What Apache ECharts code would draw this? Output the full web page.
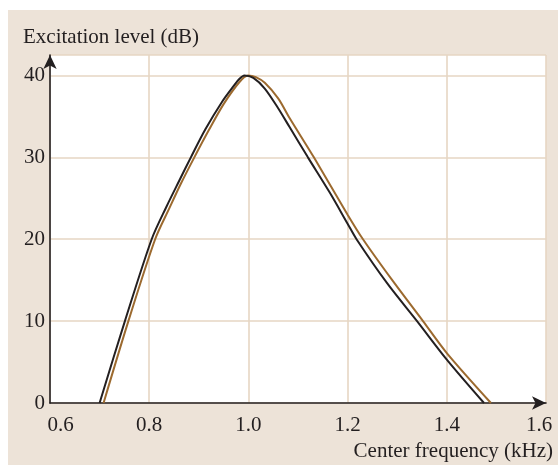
<!DOCTYPE html>
<html>
<head>
<meta charset="utf-8">
<script src="https://cdn.jsdelivr.net/npm/echarts@6/dist/echarts.min.js"></script>
<style>
  html, body { margin: 0; padding: 0; background: #ffffff; }
  #chart { position: absolute; left: 8px; top: 10px; width: 550px; height: 455px; }
</style>
</head>
<body>
<div id="chart"></div>
<script>
// Excitation pattern of a 1 kHz tone: two model curves (frequency in kHz, level in dB)
const curveAFreq  = [0.700, 0.751, 0.805, 0.835, 0.861, 0.884, 0.913, 0.947, 0.970, 0.982, 0.992, 1.010, 1.033, 1.060, 1.083, 1.120, 1.164, 1.200, 1.218, 1.280, 1.340, 1.400, 1.475];
const curveALevel = [0,     10,    20,    24.0,  27.2,  30,    33.4,  36.8,  38.7,  39.6,  40,    39.7,  38.4,  36.0,  33.7,  30,    25.7,  21.9,  20,    14.6,  10,    5.3,   0];

const curveBFreq  = [0.708, 0.758, 0.812, 0.840, 0.864, 0.891, 0.920, 0.950, 0.982, 0.999, 1.015, 1.033, 1.060, 1.083, 1.132, 1.200, 1.231, 1.290, 1.352, 1.400, 1.489];
const curveBLevel = [0,     10,    20,    23.7,  26.8,  30,    33.3,  36.5,  39.2,  40,    39.8,  39.1,  37.2,  34.8,  30,    23.0,  20,    15.0,  10,    6.1,   0];

const xTicks = [0.6, 0.8, 1.0, 1.2, 1.4, 1.6];
const yTicks = [0, 10, 20, 30, 40];

const xTitle = 'Center frequency (kHz)';
const yTitle = 'Excitation level (dB)';

const ink = '#231f20';
const brown = '#9c6a2f';
const gridColor = '#e6d6c3';
const font = '"Liberation Serif", "Times New Roman", serif';

const pairs = (xs, ys) => xs.map((x, i) => [x, ys[i]]);

const chart = echarts.init(document.getElementById('chart'), null, { renderer: 'canvas' });

chart.setOption({
  animation: false,
  backgroundColor: '#ede3d8',
  grid: {
    left: 42, right: 12, top: 45, bottom: 62,
    show: true, backgroundColor: '#ffffff', borderWidth: 0
  },
  xAxis: {
    type: 'value',
    min: xTicks[0], max: xTicks[xTicks.length - 1], interval: 0.2,
    axisLine: {
      show: true, onZero: false,
      lineStyle: { color: ink, width: 1.6 },
      symbol: ['none', 'arrow'], symbolSize: [10, 14], symbolOffset: [0, 0]
    },
    axisTick: { show: false },
    splitLine: { show: true, lineStyle: { color: gridColor, width: 1.6 } },
    axisLabel: {
      margin: 12,
      color: ink, fontFamily: font, fontSize: 21,
      formatter: v => {
        const s = v.toFixed(1);
        if (Math.abs(v - xTicks[0]) < 1e-9) return '{lo|' + s + '}';
        if (Math.abs(v - xTicks[xTicks.length - 1]) < 1e-9) return '{hi|' + s + '}';
        return s;
      },
      rich: {
        lo: { fontFamily: font, fontSize: 21, color: ink, padding: [0, 0, 0, 21] },
        hi: { fontFamily: font, fontSize: 21, color: ink, padding: [0, 14, 0, 0] }
      }
    }
  },
  yAxis: {
    type: 'value',
    min: yTicks[0], max: 42.5, interval: 10,
    axisLine: {
      show: true, onZero: false,
      lineStyle: { color: ink, width: 1.6 },
      symbol: ['none', 'arrow'], symbolSize: [10, 14], symbolOffset: [0, 0]
    },
    axisTick: { show: false },
    splitLine: { show: true, lineStyle: { color: gridColor, width: 1.6 } },
    axisLabel: {
      margin: 5, showMaxLabel: false,
      color: ink, fontFamily: font, fontSize: 21,
      formatter: v => (yTicks.indexOf(v) >= 0 ? String(v) : '')
    }
  },
  graphic: [
    {
      type: 'text', left: 15, top: 17, z: 10,
      style: { text: yTitle, fill: ink, font: '21px ' + font }
    },
    {
      type: 'text', right: 5, top: 431, z: 10,
      style: { text: xTitle, fill: ink, font: '21px ' + font }
    }
  ],
  series: [
    {
      type: 'line', name: 'B', data: pairs(curveBFreq, curveBLevel),
      showSymbol: false, smooth: 0.3,
      lineStyle: { color: brown, width: 2 }, z: 3
    },
    {
      type: 'line', name: 'A', data: pairs(curveAFreq, curveALevel),
      showSymbol: false, smooth: 0.3,
      lineStyle: { color: ink, width: 2 }, z: 4
    }
  ]
});
</script>
</body>
</html>
